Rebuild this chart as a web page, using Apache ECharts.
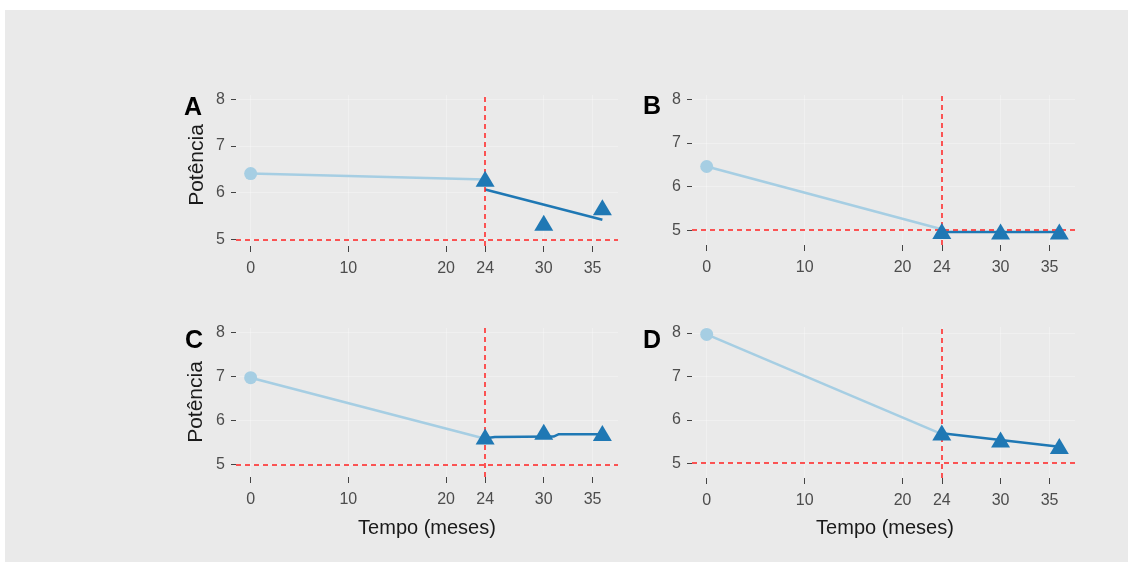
<!DOCTYPE html>
<html>
<head>
<meta charset="utf-8">
<script src="https://cdn.jsdelivr.net/npm/echarts@6/dist/echarts.min.js"></script>
<style>
  html, body { margin: 0; padding: 0; background: #fff; }
  #chart { position: absolute; left: 5px; top: 10px; width: 1123px; height: 552px; background: #eaeaea; }
</style>
</head>
<body>
<div id="chart"></div>
<script>
// paineis e eixos
const panels = ['A', 'B', 'C', 'D'];
const xTicks = [0, 10, 20, 24, 30, 35];
const yTicks = [5, 6, 7, 8];
const limite = 5;       // linha horizontal
const corte = 24;       // linha vertical

// medicao inicial (mes 0) e tendencia ate 24 meses
const baseMonths = [0, 24];
const baseA = [6.41, 6.28];
const baseB = [6.46, 5.02];
const baseC = [6.97, 5.58];
const baseD = [7.97, 5.67];

// pontos observados na estabilidade
const obsMonths = [24, 30, 36];
const obsA = [6.30, 5.36, 5.69];
const obsB = [4.98, 4.97, 4.97];
const obsC = [5.63, 5.74, 5.71];
const obsD = [5.71, 5.55, 5.40];

// curva ajustada (azul escuro)
const fitMonthsA = [24, 36];
const fitA = [6.07, 5.42];
const fitMonthsB = [24, 36];
const fitB = [4.96, 4.96];
const fitMonthsC = [24, 25, 31, 31.5, 36];
const fitC = [5.59, 5.62, 5.63, 5.68, 5.68];
const fitMonthsD = [24, 36];
const fitD = [5.69, 5.38];

const base = [baseA, baseB, baseC, baseD];
const obs = [obsA, obsB, obsC, obsD];
const fitX = [fitMonthsA, fitMonthsB, fitMonthsC, fitMonthsD];
const fitY = [fitA, fitB, fitC, fitD];

const yLimits = [[4.86, 8.09], [4.66, 8.10], [4.71, 8.10], [4.66, 8.14]];
const grids = [
  { left: 231, top: 85, width: 382, height: 151 },
  { left: 687, top: 85, width: 383, height: 150 },
  { left: 231, top: 318, width: 382, height: 149 },
  { left: 687, top: 317, width: 383, height: 151 }
];

const zip = (xs, ys) => xs.map((x, i) => [x, ys[i]]);
const font = '"Liberation Sans", Arial, sans-serif';
const lblColor = '#4d4d4d';

const xAxis = [], yAxis = [], series = [];
panels.forEach((p, i) => {
  xAxis.push({
    type: 'value', gridIndex: i, min: -1.5, max: 37.6,
    axisLine: { show: false, onZero: false },
    axisTick: { show: true, length: 6, customValues: xTicks, lineStyle: { color: '#444', width: 1 } },
    axisLabel: { customValues: xTicks, color: lblColor, fontSize: 16, fontFamily: font, margin: 15 },
    splitLine: { show: true, lineStyle: { color: 'rgba(255,255,255,0.3)', width: 1 } }
  });
  yAxis.push({
    type: 'value', gridIndex: i, min: yLimits[i][0], max: yLimits[i][1],
    axisLine: { show: false, onZero: false },
    axisTick: { show: true, length: 5, customValues: yTicks, lineStyle: { color: '#444', width: 1 } },
    axisLabel: { customValues: yTicks, color: lblColor, fontSize: 16, fontFamily: font, margin: 11 },
    splitLine: { show: true, lineStyle: { color: 'rgba(255,255,255,0.3)', width: 1 } }
  });
  series.push({
    type: 'line', xAxisIndex: i, yAxisIndex: i,
    data: zip(baseMonths, base[i]), symbol: 'none',
    lineStyle: { color: '#a6cee3', width: 2.5 }, z: 2
  });
  series.push({
    type: 'scatter', xAxisIndex: i, yAxisIndex: i,
    data: [[baseMonths[0], base[i][0]]], symbol: 'circle', symbolSize: 13,
    itemStyle: { color: '#a6cee3', opacity: 1 }, z: 3
  });
  series.push({
    type: 'line', xAxisIndex: i, yAxisIndex: i,
    data: zip(fitX[i], fitY[i]), symbol: 'none',
    lineStyle: { color: '#1f78b4', width: 2.5 }, z: 4
  });
  series.push({
    type: 'scatter', xAxisIndex: i, yAxisIndex: i,
    data: zip(obsMonths, obs[i]), symbol: 'triangle', symbolSize: [19, 16],
    itemStyle: { color: '#1f78b4', opacity: 1 }, z: 5,
    markLine: {
      silent: true, symbol: ['none', 'none'], label: { show: false },
      lineStyle: { color: '#ff2020', type: [5, 4], width: 1.5 },
      data: [{ xAxis: corte }, { yAxis: limite }]
    }
  });
});

const graphic = [];
const letterPos = [[179, 98], [638, 97], [180, 331], [638, 331]];
panels.forEach((p, i) => {
  graphic.push({
    type: 'text', x: letterPos[i][0], y: letterPos[i][1],
    style: { text: p, font: 'bold 25px ' + font, fill: '#000', textVerticalAlign: 'middle' }
  });
});
[[192, 155], [191.5, 392]].forEach(pos => {
  graphic.push({
    type: 'text', x: pos[0], y: pos[1], rotation: Math.PI / 2,
    style: { text: 'Potência', font: '21px ' + font, fill: '#1a1a1a', textAlign: 'center', textVerticalAlign: 'middle' }
  });
});
[[422, 518], [880, 518]].forEach(pos => {
  graphic.push({
    type: 'text', x: pos[0], y: pos[1],
    style: { text: 'Tempo (meses)', font: '20px ' + font, fill: '#1a1a1a', textAlign: 'center', textVerticalAlign: 'middle' }
  });
});

const chart = echarts.init(document.getElementById('chart'));
chart.setOption({
  backgroundColor: '#eaeaea',
  animation: false,
  grid: grids,
  xAxis: xAxis,
  yAxis: yAxis,
  series: series,
  graphic: graphic
});
</script>
</body>
</html>
